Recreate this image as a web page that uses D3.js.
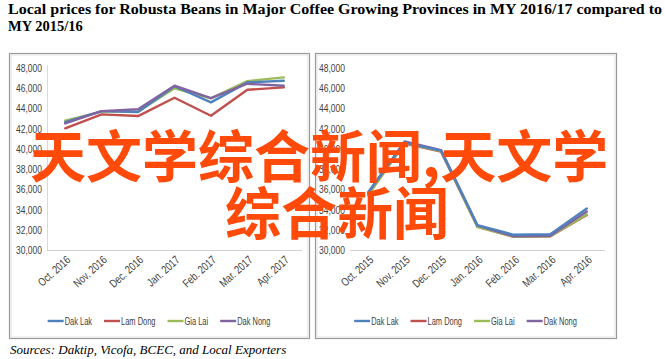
<!DOCTYPE html>
<html><head><meta charset="utf-8">
<script src="https://cdn.jsdelivr.net/npm/d3@7"></script>
<style>
html,body{margin:0;padding:0;background:#fff;}
svg{display:block;}
</style></head>
<body>
<svg id="c" width="665" height="359"></svg>
<script>
// ---- data ----
const titleLines = ["Local prices for Robusta Beans in Major Coffee Growing Provinces in MY 2016/17 compared to", "MY 2015/16"];
const sourceText = "Sources: Daktip, Vicofa, BCEC, and Local Exporters";
const seriesNames = ["Dak Lak", "Lam Dong", "Gia Lai", "Dak Nong"];
const seriesColors = ["#4F81BD", "#C0504D", "#9BBB59", "#8064A2"];
const yTicks = [30000, 32000, 34000, 36000, 38000, 40000, 42000, 44000, 46000, 48000];

const monthsLeft = ["Oct. 2016", "Nov. 2016", "Dec. 2016", "Jan. 2017", "Feb. 2017", "Mar. 2017", "Apr. 2017"];
const dakLak2017  = [42620, 43700, 43600, 46150, 44560, 46530, 46700];
const lamDong2017 = [42000, 43380, 43210, 45020, 43240, 45800, 46040];
const giaLai2017  = [42750, 43650, 43650, 45950, 44950, 46660, 47030];
const dakNong2017 = [42480, 43700, 43880, 46200, 44980, 46400, 46200];

const monthsRight = ["Oct. 2015", "Nov. 2015", "Dec. 2015", "Jan. 2016", "Feb. 2016", "Mar. 2016", "Apr. 2016"];
const dakLak2016  = [35700, 40600, 39800, 32450, 31500, 31550, 34100];
const lamDong2016 = [35500, 40500, 39700, 32300, 31300, 31350, 33450];
const giaLai2016  = [35400, 40550, 39750, 32250, 31300, 31350, 33500];
const dakNong2016 = [35650, 40700, 39850, 32400, 31350, 31400, 33800];

const watermarkLines = ["天文学综合新闻,天文学", "综合新闻"];

// ---- drawing ----
const svg = d3.select("#c");
const fmt = d3.format(",");
const SANS = "'Liberation Sans',Arial,sans-serif";

// title
svg.append("text").attr("x", 8).attr("y", 14)
  .attr("font-family", "'Liberation Serif','Times New Roman',serif")
  .attr("font-weight", "bold").attr("font-size", 14.5).attr("fill", "#000")
  .attr("textLength", 654).attr("lengthAdjust", "spacingAndGlyphs")
  .text(titleLines[0]);
svg.append("text").attr("x", 8).attr("y", 30.5)
  .attr("font-family", "'Liberation Serif','Times New Roman',serif")
  .attr("font-weight", "bold").attr("font-size", 14.5).attr("fill", "#000")
  .text(titleLines[1]);

function panel(opt) {
  const g = svg.append("g");
  // frame
  g.append("rect").attr("x", opt.bx + 0.5).attr("y", 53.5)
    .attr("width", opt.bw).attr("height", 285)
    .attr("fill", "#fff").attr("stroke", "#9a9a9a").attr("stroke-width", 1.2);
  g.append("rect").attr("x", opt.bx + 2).attr("y", 55)
    .attr("width", opt.bw - 3).attr("height", 282)
    .attr("fill", "none").attr("stroke", "#e2e2e2").attr("stroke-width", 1);

  const x = d3.scaleBand().domain(opt.months).range([opt.x0, opt.x1]);
  const y = d3.scaleLinear().domain([30000, 48000]).range([250, 67.5]);

  // y axis labels
  const ya = d3.axisLeft(y).tickValues(yTicks).tickFormat(fmt).tickSize(0).tickPadding(0);
  const yg = g.append("g").attr("transform", `translate(${opt.x0 - 5},0)`).call(ya);
  yg.select(".domain").remove();
  yg.selectAll("text").attr("font-family", SANS)
    .attr("font-size", 11.5).attr("fill", "#404040")
    .attr("x", 0).attr("transform", "scale(0.74,1)");
  if (opt.yLine) {
    g.append("line").attr("x1", opt.x0 + 0.5).attr("x2", opt.x0 + 0.5)
      .attr("y1", y(48000) - 2).attr("y2", y(30000)).attr("stroke", "#d9d9d9");
  }

  // x axis
  const xa = d3.axisBottom(x).tickSize(0).tickPadding(0);
  const xg = g.append("g").attr("transform", `translate(0,${y(30000)})`).call(xa);
  xg.select(".domain").attr("stroke", "#d0d0d0").attr("d", `M${opt.x0},0.5H${opt.x1}`);
  xg.selectAll("text")
    .attr("font-family", SANS)
    .attr("font-size", 11.5).attr("fill", "#404040")
    .attr("text-anchor", "end").attr("dy", null).attr("y", 0)
    .attr("transform", "translate(6,11) rotate(-42) scale(0.78,1)");

  // lines
  const line = d3.line().x((d, i) => x(opt.months[i]) + x.bandwidth() / 2).y(d => y(d));
  opt.drawOrder.forEach(k => {
    g.append("path").attr("d", line(opt.series[k])).attr("fill", "none")
      .attr("stroke", seriesColors[k]).attr("stroke-width", 2.4)
      .attr("stroke-linejoin", "round").attr("stroke-linecap", "round");
  });

  // legend centred in the panel
  const lg = g.append("g").attr("font-family", SANS)
    .attr("font-size", 11.5).attr("fill", "#404040");
  const sx = 0.65;
  let cx = 0;
  seriesNames.forEach((n, i) => {
    const it = lg.append("g");
    it.append("line").attr("x1", 0).attr("x2", 16).attr("y1", 0).attr("y2", 0)
      .attr("stroke", seriesColors[i]).attr("stroke-width", 2.4);
    const t = it.append("text").attr("x", 0).attr("y", 4.2)
      .attr("transform", `translate(17,0) scale(${sx},1)`).text(n);
    const w = t.node().getComputedTextLength() * sx;
    it.attr("transform", `translate(${cx},0)`);
    cx += 17 + w + 12;
  });
  const total = cx - 12;
  lg.attr("transform", `translate(${opt.bx + opt.bw / 2 - total / 2},321)`);
}

panel({bx: 9, bw: 300, x0: 47, x1: 302, months: monthsLeft, yLine: true,
  series: [dakLak2017, lamDong2017, giaLai2017, dakNong2017], drawOrder: [1, 2, 0, 3]});
panel({bx: 315, bw: 301, x0: 350, x1: 605, months: monthsRight, yLine: false,
  series: [dakLak2016, lamDong2016, giaLai2016, dakNong2016], drawOrder: [1, 2, 3, 0]});

// source
svg.append("text").attr("x", 10).attr("y", 354)
  .attr("font-family", "'Liberation Serif','Times New Roman',serif")
  .attr("font-style", "italic").attr("font-size", 13).attr("fill", "#000")
  .text(sourceText);

// watermark overlay
svg.append("text").attr("x", 30).attr("y", 177)
  .attr("font-family", "'Noto Sans CJK SC',sans-serif").attr("font-weight", "bold")
  .attr("font-size", 56).attr("fill", "#FF4A0A")
  .text(watermarkLines[0]);
svg.append("text").attr("x", 225).attr("y", 234)
  .attr("font-family", "'Noto Sans CJK SC',sans-serif").attr("font-weight", "bold")
  .attr("font-size", 56).attr("fill", "#FF4A0A")
  .text(watermarkLines[1]);
</script>
</body></html>
